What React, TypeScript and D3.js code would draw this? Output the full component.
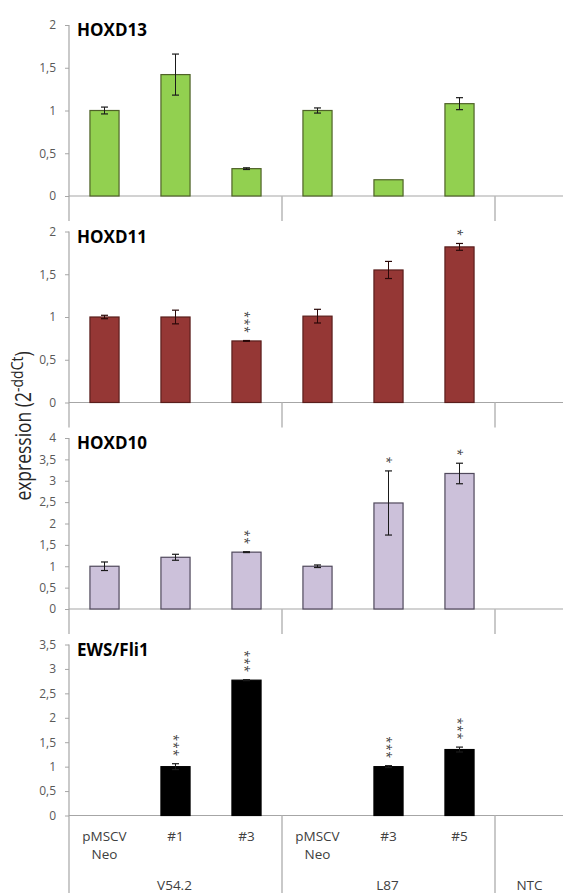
import React, { useEffect, useRef } from 'react';
import * as d3 from 'd3';

// samples on the x axis (two label levels)
const sampleIds = ['V54.2 pMSCV', 'V54.2 #1', 'V54.2 #3', 'L87 pMSCV', 'L87 #3', 'L87 #5', 'NTC'];
const sampleLabels = [['pMSCV', 'Neo'], ['#1'], ['#3'], ['pMSCV', 'Neo'], ['#3'], ['#5'], []];
const groupNames = ['V54.2', 'L87', 'NTC'];
const groupSizes = [3, 3, 1];

// expression values (2^-ddCt), error bars and significance stars
const hoxd13 = [1.0, 1.42, 0.32, 1.0, 0.19, 1.08, null];
const hoxd13Err = [0.04, 0.24, 0.01, 0.03, 0, 0.07, null];
const hoxd13Stars = [0, 0, 0, 0, 0, 0, 0];

const hoxd11 = [1.0, 1.0, 0.72, 1.01, 1.55, 1.82, null];
const hoxd11Err = [0.02, 0.08, 0.005, 0.08, 0.1, 0.04, null];
const hoxd11Stars = [0, 0, 3, 0, 0, 1, 0];

const hoxd10 = [1.0, 1.21, 1.33, 1.0, 2.48, 3.17, null];
const hoxd10Err = [0.1, 0.07, 0.01, 0.03, 0.75, 0.24, null];
const hoxd10Stars = [0, 0, 2, 0, 1, 1, 0];

const ewsFli1 = [0, 1.0, 2.77, 0, 1.0, 1.35, null];
const ewsFli1Err = [0, 0.06, 0.01, 0, 0.02, 0.05, null];
const ewsFli1Stars = [0, 3, 3, 0, 3, 3, 0];

const panelTitles = ['HOXD13', 'HOXD11', 'HOXD10', 'EWS/Fli1'];
const panelMax = [2, 2, 4, 3.5];

const W = 563, H = 893;
const left = 69, stepX = 71;
const panelTop0 = 25, panelStep = 206.5, plotH = 171;
const font = '"Open Sans", "Liberation Sans", sans-serif';

const fmt = d3.formatLocale({ decimal: ',', thousands: '.', grouping: [3], currency: ['', ''] }).format('~g');

export default function App() {
  const ref = useRef<SVGSVGElement>(null);

  useEffect(() => {
    if (!ref.current) return;
    const svg = d3.select(ref.current);
    svg.selectAll('*').remove();

    const panels = [
      { values: hoxd13, err: hoxd13Err, stars: hoxd13Stars, fill: '#92d050', stroke: '#4f6228' },
      { values: hoxd11, err: hoxd11Err, stars: hoxd11Stars, fill: '#953735', stroke: '#5a1e1c' },
      { values: hoxd10, err: hoxd10Err, stars: hoxd10Stars, fill: '#ccc1da', stroke: '#50495c' },
      { values: ewsFli1, err: ewsFli1Err, stars: ewsFli1Stars, fill: '#000000', stroke: '#000000' },
    ];

    const x = d3.scaleBand<string>()
      .domain(sampleIds)
      .range([left, left + stepX * sampleIds.length]);
    const barW = x.bandwidth() * 0.41;

    // group boundaries (multi-level category dividers)
    const bounds: number[] = [];
    let acc = 0;
    groupSizes.forEach(s => { acc += s; bounds.push(acc); });

    panels.forEach((p, i) => {
      const top = panelTop0 + i * panelStep;
      const zero = top + plotH;
      const last = i === panels.length - 1;
      const extBottom = last ? H : zero + 25;
      const y = d3.scaleLinear().domain([0, panelMax[i]]).range([zero, top]);
      const g = svg.append('g');

      // y axis
      const yAxis = d3.axisLeft(y)
        .tickValues(d3.range(0, panelMax[i] + 0.001, 0.5))
        .tickSize(4)
        .tickPadding(9)
        .tickFormat(d => fmt(d as number));
      const ax = g.append('g').attr('transform', `translate(${left},0)`).call(yAxis);
      ax.select('.domain').remove();
      ax.selectAll('.tick line').attr('stroke', '#a6a6a6');
      ax.selectAll('.tick text')
        .attr('fill', '#595959')
        .style('font-family', font)
        .style('font-size', '12px');
      g.append('line')
        .attr('x1', left).attr('x2', left)
        .attr('y1', top).attr('y2', extBottom)
        .attr('stroke', '#a6a6a6').attr('stroke-width', 1.2);

      // zero line
      g.append('line')
        .attr('x1', left).attr('x2', W)
        .attr('y1', zero).attr('y2', zero)
        .attr('stroke', '#a6a6a6').attr('stroke-width', 1.2);

      // group dividers below axis
      bounds.slice(0, -1).forEach(b => {
        const bx = (x(sampleIds[b]) as number);
        g.append('line')
          .attr('x1', bx).attr('x2', bx)
          .attr('y1', zero).attr('y2', extBottom)
          .attr('stroke', '#b7b7b7').attr('stroke-width', 1.5);
      });

      // bars
      const items = sampleIds.map((id, k) => ({ id, v: p.values[k], e: p.err[k], s: p.stars[k] }));
      g.selectAll('rect.bar')
        .data(items.filter(d => d.v != null && (d.v as number) > 0))
        .join('rect')
        .attr('class', 'bar')
        .attr('x', d => (x(d.id) as number) + (x.bandwidth() - barW) / 2)
        .attr('width', barW)
        .attr('y', d => y(d.v as number))
        .attr('height', d => zero - y(d.v as number))
        .attr('fill', p.fill)
        .attr('stroke', p.stroke)
        .attr('stroke-width', 1.2);

      // error bars
      const eb = items.filter(d => d.v != null && (d.v as number) > 0 && d.e != null && (d.e as number) > 0);
      eb.forEach(d => {
        const cx = (x(d.id) as number) + x.bandwidth() / 2;
        const y1 = y((d.v as number) + (d.e as number));
        const y2 = y((d.v as number) - (d.e as number));
        const c = i === 1 ? '#2a0808' : '#1a1a1a';
        g.append('line').attr('x1', cx).attr('x2', cx).attr('y1', y1).attr('y2', y2).attr('stroke', c).attr('stroke-width', 1);
        [y1, y2].forEach(yy => {
          g.append('line').attr('x1', cx - 3.5).attr('x2', cx + 3.5).attr('y1', yy).attr('y2', yy).attr('stroke', c).attr('stroke-width', 1.2);
        });
      });

      // significance stars: one string of '*' turned to run downwards
      const starFs = 12;
      items.filter(d => d.s > 0).forEach(d => {
        const cx = (x(d.id) as number) + x.bandwidth() / 2;
        const errTop = y((d.v as number) + ((d.e as number) || 0));
        const midY = errTop - 10.5 - ((d.s - 1) * 7.5) / 2;
        g.append('text')
          .attr('transform', `translate(${cx},${midY}) rotate(90)`)
          .attr('x', 0)
          .attr('y', starFs * 0.56)
          .attr('text-anchor', 'middle')
          .attr('fill', '#404040')
          .style('font-family', font)
          .style('font-size', `${starFs}px`)
          .style('letter-spacing', '0.9px')
          .text('*'.repeat(d.s));
      });

      // panel title
      g.append('text')
        .attr('x', 77).attr('y', top + 11)
        .attr('fill', '#000')
        .style('font-family', font)
        .style('font-size', '17px')
        .style('font-weight', 700)
        .text(panelTitles[i]);

      // category labels only on the last panel
      if (last) {
        sampleIds.forEach((id, k) => {
          const cx = (x(id) as number) + x.bandwidth() / 2;
          sampleLabels[k].forEach((line, j) => {
            g.append('text')
              .attr('x', cx).attr('y', zero + 25 + j * 18)
              .attr('text-anchor', 'middle')
              .attr('fill', '#404040')
              .style('font-family', font)
              .style('font-size', '13.5px')
              .text(line);
          });
        });
        let start = 0;
        groupNames.forEach((name, k) => {
          const x0 = x(sampleIds[start]) as number;
          const x1 = x0 + stepX * groupSizes[k];
          start += groupSizes[k];
          g.append('text')
            .attr('x', (x0 + x1) / 2 - 1).attr('y', 890)
            .attr('text-anchor', 'middle')
            .attr('fill', '#404040')
            .style('font-family', font)
            .style('font-size', '13.5px')
            .text(name);
        });
      }
    });

    // y-axis title (slightly widened like the stretched original)
    const t = svg.append('text')
      .attr('transform', 'translate(31,426) scale(1.2,1) rotate(-90)')
      .attr('text-anchor', 'middle')
      .attr('fill', '#262626')
      .style('font-family', font)
      .style('font-size', '17.5px');
    t.append('tspan').text('expression (2');
    t.append('tspan').attr('dy', -7).style('font-size', '14px').text('-ddCt');
    t.append('tspan').attr('dy', 7).text(')');
  }, []);

  return (
    <svg
      ref={ref}
      width={W}
      height={H}
      style={{ position: 'absolute', left: 0, top: 0, background: '#fff', display: 'block' }}
    />
  );
}
